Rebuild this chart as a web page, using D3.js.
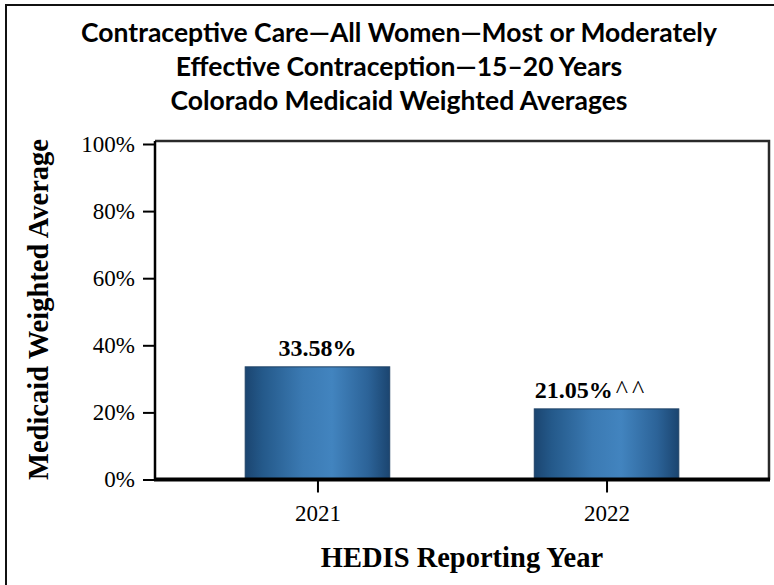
<!DOCTYPE html>
<html>
<head>
<meta charset="utf-8">
<script src="https://cdn.jsdelivr.net/npm/d3@7"></script>
<style>
  html, body { margin: 0; padding: 0; background: #fff; }
  svg { display: block; }
</style>
</head>
<body>
<svg id="chart" width="774" height="585"></svg>
<script>
const titleLines = [
  "Contraceptive Care\u2014All Women\u2014Most or Moderately",
  "Effective Contraception\u201415\u201320 Years",
  "Colorado Medicaid Weighted Averages"
];
const categories = ["2021", "2022"];
const values = [0.3358, 0.2105];
const valueLabels = ["33.58%", "21.05%"];
const valueSuffixes = ["", "^^"];
const yTicks = [0, 0.2, 0.4, 0.6, 0.8, 1.0];
const yAxisTitle = "Medicaid Weighted Average";
const xAxisTitle = "HEDIS Reporting Year";

const svg = d3.select("#chart");
const W = 774, H = 585;
const plot = { left: 155, right: 769, top: 141, bottom: 480 };
const serif = "'Liberation Serif', 'Times New Roman', serif";
const sans = "Lato, 'Open Sans', sans-serif";

// outer frame (only left/top visible in crop)
svg.append("line").attr("x1", 6).attr("x2", 6).attr("y1", 5).attr("y2", H)
  .attr("stroke", "#111").attr("stroke-width", 2);
svg.append("line").attr("x1", 5).attr("x2", W).attr("y1", 5).attr("y2", 5)
  .attr("stroke", "#111").attr("stroke-width", 2);

// title
svg.append("g").selectAll("text").data(titleLines).join("text")
  .attr("x", 399).attr("y", (d, i) => 42 + i * 34)
  .attr("text-anchor", "middle")
  .attr("font-family", sans).attr("font-weight", 700)
  .attr("font-size", 26.5).attr("fill", "#000")
  .text(d => d);

const y = d3.scaleLinear().domain([0, 1]).range([479.5, 144]);
const x = d3.scalePoint().domain(categories).range([plot.left, plot.right]).padding(0.562);
const barW = x.step() * 0.5;

// gradient
const defs = svg.append("defs");
const grad = defs.append("linearGradient").attr("id", "barGrad")
  .attr("x1", "0%").attr("x2", "100%").attr("y1", "0%").attr("y2", "0%");
[[0, "#1b4570"], [0.12, "#24598a"], [0.4, "#3b7ab3"], [0.6, "#4284bf"], [0.85, "#2c6398"], [1, "#1b4570"]]
  .forEach(([o, c]) => grad.append("stop").attr("offset", o).attr("stop-color", c));

// plot frame top/right
svg.append("path")
  .attr("d", `M${plot.left},${plot.top} H${plot.right} V${plot.bottom}`)
  .attr("fill", "none").attr("stroke", "#2a2a2a").attr("stroke-width", 2.5);

// bars
svg.append("g").selectAll("rect").data(values).join("rect")
  .attr("x", (d, i) => x(categories[i]) - barW / 2)
  .attr("y", d => y(d))
  .attr("width", barW)
  .attr("height", d => y(0) - y(d))
  .attr("fill", "url(#barGrad)")
  .attr("stroke", "#1f4266").attr("stroke-width", 1);

// value labels
const vl = svg.append("g").selectAll("text").data(values).join("text")
  .attr("x", (d, i) => x(categories[i]) - (valueSuffixes[i] ? 15 : 0))
  .attr("y", d => y(d) - 11)
  .attr("text-anchor", "middle")
  .attr("font-family", serif).attr("font-weight", 700).attr("font-size", 24)
  .attr("fill", "#000");
vl.append("tspan").text((d, i) => valueLabels[i]);
vl.append("tspan").attr("dx", 3).attr("letter-spacing", 4).attr("font-size", 26).attr("font-weight", 400)
  .text((d, i) => valueSuffixes[i]);

// y axis
const yAxis = svg.append("g").attr("transform", `translate(${plot.left},0)`)
  .call(d3.axisLeft(y).tickValues(yTicks).tickFormat(d3.format(".0%")).tickSize(12).tickPadding(8));
yAxis.select(".domain").attr("d", `M0,${plot.top}V${plot.bottom}`).attr("stroke", "#000").attr("stroke-width", 2.5);
yAxis.selectAll(".tick line").attr("stroke", "#000").attr("stroke-width", 2);
yAxis.selectAll(".tick text").attr("font-family", serif).attr("font-size", 23).attr("fill", "#000");

// x axis
const xAxis = svg.append("g").attr("transform", `translate(0,${y(0)})`)
  .call(d3.axisBottom(x).tickSize(13).tickPadding(12));
xAxis.select(".domain").attr("d", `M${plot.left - 1},0H${plot.right + 1}`).attr("stroke", "#000").attr("stroke-width", 4);
xAxis.selectAll(".tick line").attr("stroke", "#000").attr("stroke-width", 2);
xAxis.selectAll(".tick text").attr("font-family", serif).attr("font-size", 23).attr("fill", "#000");

// axis titles
svg.append("text")
  .attr("transform", `translate(48,${(plot.top + plot.bottom) / 2 - 1}) rotate(-90)`)
  .attr("text-anchor", "middle")
  .attr("font-family", serif).attr("font-weight", 700).attr("font-size", 28.5)
  .attr("fill", "#000").text(yAxisTitle);

svg.append("text")
  .attr("x", 462).attr("y", 567)
  .attr("text-anchor", "middle")
  .attr("font-family", serif).attr("font-weight", 700).attr("font-size", 28.5)
  .attr("fill", "#000").text(xAxisTitle);
</script>
</body>
</html>
